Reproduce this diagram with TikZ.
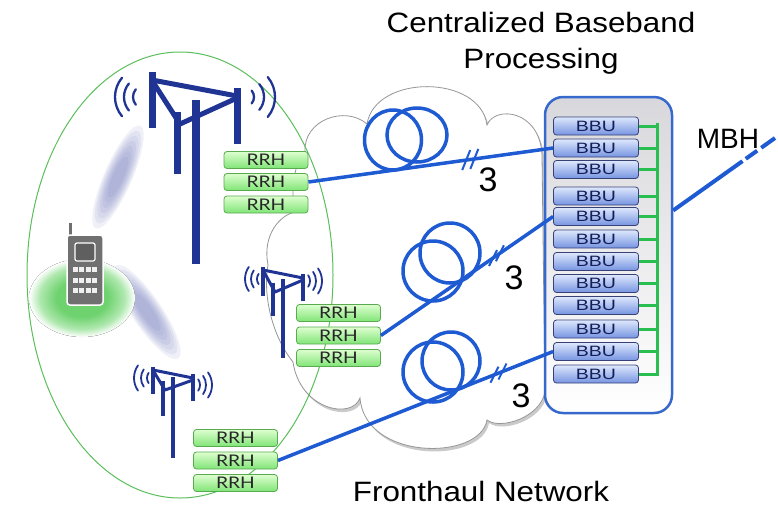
\documentclass[tikz,border=0pt]{standalone}
\usepackage{fontspec}
\usepackage{graphicx}
\setmainfont{Liberation Sans}
\newfontfamily\rrhfont{Lato}
\usetikzlibrary{calc,shadows}

\definecolor{towerblue}{RGB}{32,52,148}
\definecolor{fiber}{RGB}{30,90,210}
\definecolor{ladder}{RGB}{40,190,80}
\definecolor{cellgreen}{RGB}{90,190,90}
\definecolor{rrhtop}{RGB}{222,255,208}
\definecolor{rrhbot}{RGB}{128,228,118}
\definecolor{rrhline}{RGB}{90,170,80}
\definecolor{bbutop}{RGB}{222,232,252}
\definecolor{bbubot}{RGB}{118,148,225}
\definecolor{bbuline}{RGB}{55,65,120}
\definecolor{bbutext}{RGB}{20,30,90}
\definecolor{rackline}{RGB}{55,105,205}
\definecolor{racktop}{RGB}{216,216,220}
\definecolor{cloudline}{RGB}{150,150,150}
\definecolor{phonegray}{RGB}{112,112,112}
\definecolor{lobe}{RGB}{115,122,188}
\definecolor{glowA}{RGB}{110,210,110}
\definecolor{glowB}{RGB}{175,232,175}

% soft green spot under the handset (25bp is the rim of the filled path)
\pgfdeclareradialshading{glow}{\pgfpoint{0bp}{0bp}}{color(0bp)=(glowA); color(12bp)=(glowA); color(20bp)=(glowB); color(25bp)=(white); color(50bp)=(white)}

\newcommand\widetext[1]{\scalebox{1.12}[1]{#1}}

\tikzset{
  rrh/.style={draw=rrhline, line width=0.8, rounded corners=3, top color=rrhtop, bottom color=rrhbot,
    minimum width=84, minimum height=17, inner sep=0, font=\rrhfont\fontsize{16}{16}\selectfont, text=black!85},
  bbu/.style={draw=bbuline, line width=0.8, rounded corners=3, top color=bbutop, bottom color=bbubot,
    minimum width=85, minimum height=18, inner sep=0, font=\fontsize{15}{15}\selectfont, text=bbutext},
  towerbar/.style={draw=towerblue, line width=7},
  towerthin/.style={draw=towerblue, line width=4},
  wave/.style={draw=towerblue, line width=2.3, line cap=round},
  fiberline/.style={draw=fiber, line width=3.5},
  tick/.style={draw=fiber, line width=2},
  title/.style={font=\fontsize{28}{30}\selectfont, inner sep=0, anchor=base},
  digit/.style={font=\fontsize{34}{36}\selectfont, inner sep=0},
}

\begin{document}
\begin{tikzpicture}[x=1pt,y=-1pt]
\useasboundingbox (0,0) rectangle (778,507);

% radio beams
\begin{scope}[shift={(118,177)},rotate=66.5]
  \foreach \s in {1,0.9,0.8,0.7,0.6,0.5,0.4}
    \fill[lobe, opacity=0.11] (0,0) ellipse [x radius=56*\s, y radius=14*\s];
\end{scope}
\begin{scope}[shift={(147,312)},rotate=-56]
  \foreach \s in {1,0.9,0.8,0.7,0.6,0.5,0.4}
    \fill[lobe, opacity=0.11] (0,0) ellipse [x radius=56*\s, y radius=15*\s];
\end{scope}

% green spot
\fill[shading=glow] (82,298) ellipse [x radius=53, y radius=39];

% fronthaul cloud
\path[fill=white, draw=cloudline, line width=0.8,
      drop shadow={shadow xshift=2pt, shadow yshift=-3pt, opacity=0.35, fill=black!60}]
  (305,152) .. controls (303,120) and (345,105) .. (367,124)
  .. controls (375,74) and (480,74) .. (487,125)
  .. controls (495,105) and (540,110) .. (542,155)
  -- (545,392)
  .. controls (540,418) and (500,430) .. (487,420)
  .. controls (480,461) and (365,461) .. (360,398)
  .. controls (352,420) and (300,410) .. (293,362)
  .. controls (275,340) and (262,300) .. (268,265)
  .. controls (262,235) and (280,215) .. (295,212)
  .. controls (290,190) and (295,160) .. (305,152) -- cycle;

% cell boundary
\draw[cellgreen, line width=1] (180,275) ellipse [x radius=153, y radius=223];

% handset
\draw[white, line width=1.2, fill=phonegray] (68,222) rectangle (73,237);
\draw[white, line width=1.5, fill=phonegray, rounded corners=3] (67,235) rectangle (103,305);
\draw[white, line width=1.2, fill=phonegray!85!black, rounded corners=2] (75,243) rectangle (95,261);
\foreach \r in {0,1,2}
  \foreach \c in {0,1,2,3}
    \fill[white!88!gray] ({73+\c*6.3},{267+\r*10.5}) rectangle ++(5,5);

% large tower
\draw[towerbar] (152,72) -- (152,128);
\draw[towerbar] (237,88) -- (237,144);
\draw[towerbar] (177,112) -- (177,174);
\draw[towerbar, line width=8] (196,100) -- (196,264);
\draw[towerbar, line width=5] (152,80) -- (237,96);
\draw[towerbar, line width=5, line join=round] (153,82) -- (180,124) -- (237,98);
\foreach \r in {12,21,30} \draw[wave] (145,97) ++(140:\r) arc[start angle=140, end angle=220, radius=\r];
\foreach \r in {10,20,31} \draw[wave] (244,97) ++(-40:\r) arc[start angle=-40, end angle=40, radius=\r];

% middle tower
\draw[towerthin] (263,267) -- (263,296);
\draw[towerthin] (273,283) -- (273,316);
\draw[towerthin] (283,279) -- (283,358);
\draw[towerthin] (303,274) -- (303,301);
\draw[towerthin, line width=3] (263,270) -- (303,278);
\draw[towerthin, line width=3, line join=round] (264,272) -- (275,292) -- (303,280);
\foreach \r in {9,15,21} \draw[wave, line width=1.8] (266,279) ++(145:\r) arc[start angle=145, end angle=215, radius=\r];
\foreach \r in {10,16,22} \draw[wave, line width=1.8] (300,281) ++(-35:\r) arc[start angle=-35, end angle=35, radius=\r];

% small tower
\draw[towerthin] (153,367) -- (153,394);
\draw[towerthin] (163,381) -- (163,416);
\draw[towerthin] (173,377) -- (173,458);
\draw[towerthin] (193,374) -- (193,401);
\draw[towerthin, line width=3] (153,370) -- (193,378);
\draw[towerthin, line width=3, line join=round] (154,372) -- (165,390) -- (193,380);
\foreach \r in {9,15,22} \draw[wave, line width=1.8] (156,378) ++(145:\r) arc[start angle=145, end angle=215, radius=\r];
\foreach \r in {10,16,22} \draw[wave, line width=1.8] (190,385) ++(-35:\r) arc[start angle=-35, end angle=35, radius=\r];

% baseband pool
\node[draw=rackline, line width=2.5, rounded corners=18, top color=racktop, bottom color=white,
      minimum width=127, minimum height=316, inner sep=0] (rack) at (608.5,255) {};
\foreach \i/\y in {1/126,2/148,3/169.5,4/196,5/216.5,6/239,7/261.5,8/283.5,9/305.5,10/329,11/351.5,12/374}
  \node[bbu] (bbu\i) at (596,\y) {\scalebox{1.3}[1]{BBU}};
\coordinate (lt) at (657,123);
\coordinate (lb) at (657,376);
\draw[ladder, line width=3] (lt) -- (lb);
\foreach \i in {1,...,12}
  \draw[ladder, line width=3] (bbu\i.east) -- (bbu\i.east -| lt);

% remote radio heads
\foreach \n/\y in {1/160,2/182,3/204.5} \node[rrh] (rA\n) at (266,\y) {\scalebox{1.2}[1]{RRH}};
\foreach \n/\y in {1/313,2/335.5,3/358} \node[rrh] (rB\n) at (338.5,\y) {\scalebox{1.2}[1]{RRH}};
\foreach \n/\y in {1/438,2/460.5,3/483} \node[rrh] (rC\n) at (235.5,\y) {\scalebox{1.2}[1]{RRH}};

% fronthaul fibres
\draw[fiberline] (rA2.east) -- (bbu2.west)
  coordinate[pos=0.645] (tA1) coordinate[pos=0.678] (tA2);
\draw[fiberline] (rB2.east) -- (bbu5.west)
  coordinate[pos=0.651] (tB1) coordinate[pos=0.691] (tB2);
\draw[fiberline] (rC2.east) -- (bbu11.west)
  coordinate[pos=0.787] (tC1) coordinate[pos=0.816] (tC2);

% fibre coils
\draw[fiberline] (393,140) ellipse [x radius=28.5, y radius=30];
\draw[fiberline] (417,135) ellipse [x radius=30, y radius=27];
\draw[fiberline] (433,271) circle [radius=30];
\draw[fiberline] (450,253) circle [radius=30];
\draw[fiberline] (433,372) circle [radius=30];
\draw[fiberline] (451,361) circle [radius=29];

% bundle marks
\foreach \t in {tA1,tA2} \draw[tick] (\t) ++(-4,10) -- ++(8,-20);
\foreach \t in {tB1,tB2} \draw[tick] (\t) ++(-4,8) -- ++(8,-16);
\foreach \t in {tC1,tC2} \draw[tick] (\t) ++(-4,8) -- ++(8,-16);

% mobile backhaul
\coordinate (mbhs) at ($(rack.north east)!0.36!(rack.south east)$);
\coordinate (mbhe) at (775,138);
\draw[fiberline, line width=4, dash pattern=on 85pt off 4pt on 14pt off 5pt on 40pt] (mbhs) -- (mbhe);

% labels
\node[title] (ttl1) at (541,32) {\widetext{Centralized Baseband}};
\node[title] (ttl2) at (541,68) {\widetext{Processing}};
\node[title] (fhn) at (481,501) {\widetext{Fronthaul Network}};
\node[title] (mbh) at (728,148) {MBH};
\node[digit] (n1) at (488,180) {3};
\node[digit] (n2) at (514,278) {3};
\node[digit] (n3) at (521,396) {3};
\end{tikzpicture}
\end{document}
